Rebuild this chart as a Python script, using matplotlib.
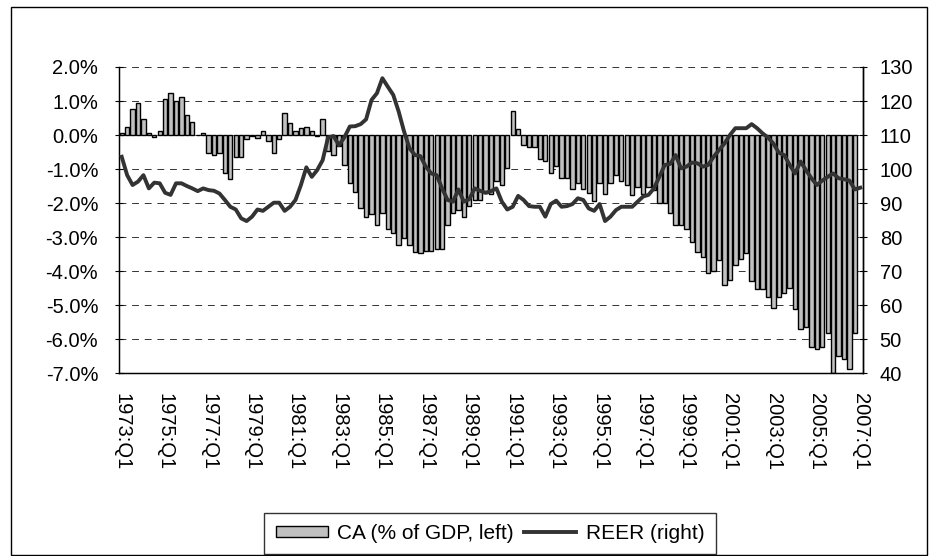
"""Current account (% of GDP) bars vs REER line, quarterly 1973Q1-2007Q1."""

import matplotlib.pyplot as plt
from matplotlib.patches import Rectangle

plt.rcParams['font.family'] = ['Liberation Sans', 'DejaVu Sans']

# quarterly, 1973:Q1 onward; CA has no value for 2007:Q1
ca = [0.07, 0.25, 0.77, 0.95, 0.47, 0.07, -0.05, 0.13,
      1.07, 1.25, 1.00, 1.13, 0.60, 0.37, 0.00, 0.05,
      -0.52, -0.59, -0.52, -1.13, -1.30, -0.66, -0.66, -0.12,
      -0.03, -0.10, 0.13, -0.18, -0.52, -0.13, 0.66, 0.36,
      0.12, 0.20, 0.25, 0.12, -0.03, 0.47, -0.46, -0.59,
      -0.32, -0.88, -1.40, -1.67, -2.16, -2.40, -2.32, -2.65,
      -2.30, -2.76, -2.89, -3.22, -3.04, -3.22, -3.43, -3.46,
      -3.41, -3.41, -3.35, -3.35, -2.65, -2.30, -2.20, -2.40,
      -2.10, -1.90, -1.90, -1.70, -1.72, -1.34, -1.47, -0.98,
      0.72, 0.17, -0.29, -0.36, -0.36, -0.70, -0.75, -1.13,
      -0.91, -1.25, -1.25, -1.59, -1.40, -1.59, -1.70, -1.94,
      -1.42, -1.72, -1.42, -1.18, -1.34, -1.47, -1.76, -1.54,
      -1.72, -1.54, -1.62, -2.00, -2.00, -2.30, -2.65, -2.65,
      -2.75, -3.14, -3.43, -3.58, -4.05, -3.99, -3.68, -4.41,
      -4.26, -3.82, -3.66, -3.48, -4.28, -4.54, -4.54, -4.77,
      -5.10, -4.77, -4.64, -4.51, -5.13, -5.69, -5.64, -6.23,
      -6.28, -6.23, -5.83, -7.00, -6.50, -6.60, -6.89, -5.83]

reer = [103.6, 98.2, 95.3, 96.3, 98.2, 94.3, 96.0, 95.8,
        93.0, 92.4, 95.8, 95.8, 95.0, 94.3, 93.5, 94.3,
        93.8, 93.6, 92.8, 90.9, 88.9, 88.1, 85.5, 84.7,
        86.0, 88.1, 87.7, 88.9, 90.1, 90.1, 87.7, 88.9,
        90.9, 95.3, 100.5, 97.7, 99.7, 102.6, 109.3, 109.7,
        107.0, 109.3, 112.5, 112.6, 113.2, 114.6, 120.3, 122.3,
        126.7, 124.2, 121.8, 116.9, 111.0, 106.1, 104.1, 103.8,
        100.7, 98.7, 98.2, 94.3, 90.9, 90.4, 94.0, 90.4,
        91.1, 94.3, 93.6, 93.0, 93.5, 94.3, 90.4, 88.1,
        88.9, 92.1, 90.9, 89.1, 88.9, 88.9, 86.0, 89.7,
        90.7, 88.9, 89.1, 89.7, 91.4, 90.9, 88.4, 87.7,
        89.7, 84.7, 86.0, 87.9, 88.9, 88.9, 88.9, 90.4,
        91.9, 92.4, 94.3, 97.7, 101.2, 101.5, 104.1, 100.2,
        100.7, 101.9, 101.7, 100.7, 101.2, 103.6, 105.6, 107.5,
        110.0, 112.0, 112.0, 112.0, 113.2, 112.0, 110.5, 109.3,
        107.5, 104.8, 104.1, 101.2, 98.7, 102.2, 99.7, 97.3,
        95.3, 96.6, 97.7, 98.7, 97.3, 97.0, 96.6, 94.0, 94.5]

tick_pos = list(range(0, len(reer), 8))
tick_labels = [f'{1973 + 2 * k}:Q1' for k in range(len(tick_pos))]
left_ticks = [2, 1, 0, -1, -2, -3, -4, -5, -6, -7]
right_ticks = [130, 120, 110, 100, 90, 80, 70, 60, 50, 40]
FS = 14.5

fig = plt.figure(figsize=(9.37, 5.56), dpi=100)
ax = fig.add_axes([0.127, 0.329, 0.794, 0.5505])

ax.bar(range(len(ca)), ca, width=0.8, color='#c0c0c0', edgecolor='black',
       linewidth=1.0, zorder=2)
ax.set_ylim(-7, 2)
ax.set_xlim(-0.5, len(reer) - 0.5)
ax.set_yticks(left_ticks)
ax.set_yticklabels([f'{v:.1f}%' for v in left_ticks])
for v in left_ticks:
    ax.axhline(v, color='#333333', lw=0.7, ls=(0, (7, 6)), zorder=1)

ax.set_xticks(tick_pos)
ax.set_xticklabels(tick_labels, rotation=270, fontsize=FS)
ax.tick_params(axis='x', length=0, pad=14)
ax.tick_params(axis='y', direction='inout', length=6, width=0.8,
               labelsize=FS, pad=12)
ax.spines['top'].set_visible(False)
for s in ['left', 'bottom', 'right']:
    ax.spines[s].set_linewidth(1.0)

ax2 = ax.twinx()
line, = ax2.plot(range(len(reer)), reer, color='#333333', lw=2.8, zorder=3)
ax2.set_ylim(40, 130)
ax2.set_yticks(right_ticks)
ax2.tick_params(axis='y', direction='inout', length=6, width=0.8,
                labelsize=FS, pad=9)
ax2.spines['top'].set_visible(False)
ax2.spines['right'].set_linewidth(1.0)

# legend swatch for the bars
ca_patch = Rectangle((0, 0), 1, 1, facecolor='#c0c0c0', edgecolor='black', lw=1.0)
leg = fig.legend([ca_patch, line], ['CA (% of GDP, left)', 'REER (right)'],
                 loc='center', ncol=2,
                 bbox_to_anchor=(490 / 937, 1 - 533.5 / 556), fontsize=15,
                 frameon=True, fancybox=False, edgecolor='black',
                 handlelength=2.5, handleheight=0.45, columnspacing=0.5,
                 handletextpad=0.45, borderpad=0.55, borderaxespad=0)
leg.get_frame().set_linewidth(1.0)

# outer chart border
fig.patches.append(Rectangle((11 / 937, 1 - 555 / 556), 916 / 937, 548 / 556,
                             transform=fig.transFigure, fill=False,
                             edgecolor='black', lw=1.0))

plt.savefig('out.png', dpi=100)
